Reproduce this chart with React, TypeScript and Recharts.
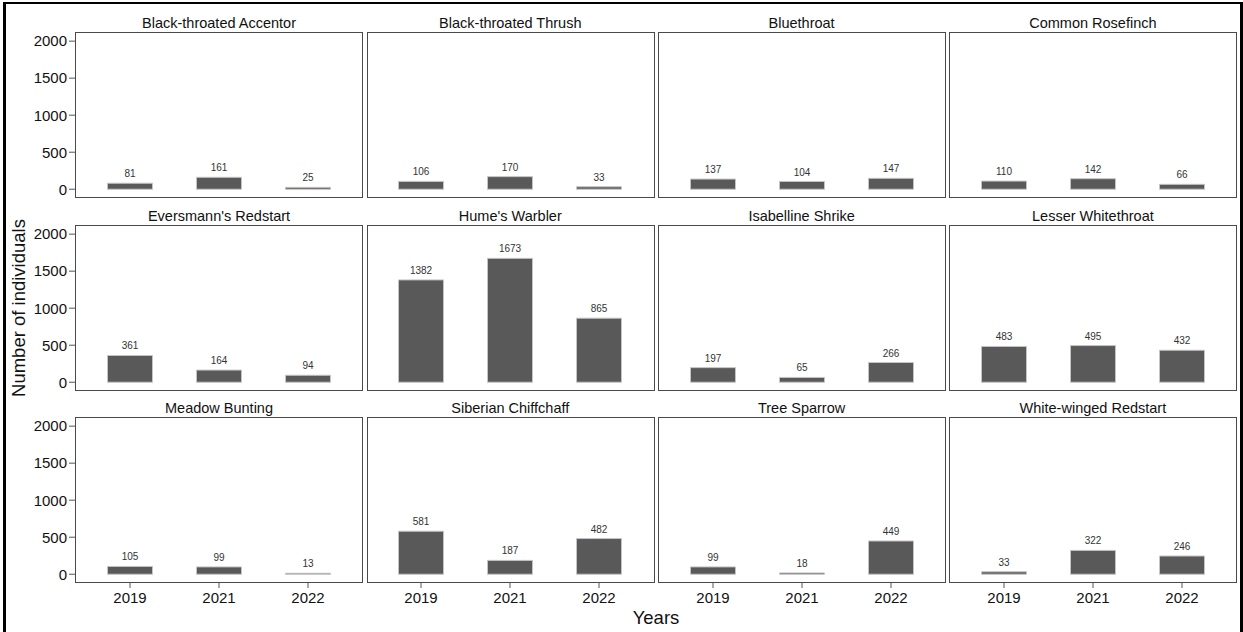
import React from 'react';
import { BarChart, Bar, XAxis, YAxis, LabelList } from 'recharts';

const species = [
  'Black-throated Accentor',
  'Black-throated Thrush',
  'Bluethroat',
  'Common Rosefinch',
  "Eversmann's Redstart",
  "Hume's Warbler",
  'Isabelline Shrike',
  'Lesser Whitethroat',
  'Meadow Bunting',
  'Siberian Chiffchaff',
  'Tree Sparrow',
  'White-winged Redstart',
];

const years = ['2019', '2021', '2022'];

const counts2019 = [81, 106, 137, 110, 361, 1382, 197, 483, 105, 581, 99, 33];
const counts2021 = [161, 170, 104, 142, 164, 1673, 65, 495, 99, 187, 18, 322];
const counts2022 = [25, 33, 147, 66, 94, 865, 266, 432, 13, 482, 449, 246];

const yTicks = [0, 500, 1000, 1500, 2000];

const FONT = '"Liberation Sans", Arial, Helvetica, sans-serif';
const BOX_W = 286;
const BOX_H = 164;
const COL_STEP = 291.3;
const ROW_STEP = 192.5;
const LEFT0 = 76;
const TOP0 = 33;
const Y_AXIS_W = 70;
const X_AXIS_H = 30;

const panelData = (i: number) =>
  years.map((year, k) => ({
    year,
    count: [counts2019, counts2021, counts2022][k][i],
  }));

const Panel: React.FC<{ index: number }> = ({ index }) => {
  const row = Math.floor(index / 4);
  const col = index % 4;
  const boxLeft = LEFT0 + col * COL_STEP;
  const boxTop = TOP0 + row * ROW_STEP;
  const showY = col === 0;
  const showX = row === 2;
  const width = BOX_W + (showY ? Y_AXIS_W : 0);
  const height = BOX_H + (showX ? X_AXIS_H : 0);

  return (
    <>
      <div
        style={{
          position: 'absolute',
          left: boxLeft,
          top: boxTop - 20,
          width: BOX_W,
          textAlign: 'center',
          fontSize: 14.5,
          lineHeight: '20px',
          color: '#111',
        }}
      >
        {species[index]}
      </div>
      <div
        style={{
          position: 'absolute',
          left: boxLeft - (showY ? Y_AXIS_W : 0),
          top: boxTop,
        }}
      >
        <BarChart
          width={width}
          height={height}
          data={panelData(index)}
          margin={{ top: 0, right: 0, bottom: 0, left: 0 }}
        >
          <XAxis
            dataKey="year"
            hide={!showX}
            height={X_AXIS_H}
            interval={0}
            padding={{ left: 9.5, right: 9.5 }}
            axisLine={false}
            tickSize={6}
            tickMargin={4}
            tickLine={{ stroke: '#555' }}
            tick={{ fill: '#111', fontSize: 15, fontFamily: FONT }}
          />
          <YAxis
            type="number"
            domain={[-105, 2110]}
            ticks={yTicks}
            interval={0}
            hide={!showY}
            width={Y_AXIS_W}
            axisLine={false}
            tickSize={7}
            tickMargin={2}
            tickLine={{ stroke: '#555' }}
            tick={{ fill: '#111', fontSize: 15, fontFamily: FONT }}
          />
          <Bar
            dataKey="count"
            fill="#595959"
            stroke="#c4c4c4"
            strokeWidth={1}
            barSize={45}
            isAnimationActive={false}
          >
            <LabelList
              dataKey="count"
              position="top"
              offset={6}
              fill="#333"
              fontSize={10}
              fontFamily={FONT}
            />
          </Bar>
        </BarChart>
      </div>
      <div
        style={{
          position: 'absolute',
          left: boxLeft - 0.75,
          top: boxTop - 0.75,
          width: BOX_W,
          height: BOX_H,
          border: '1.5px solid #4a4a4a',
          pointerEvents: 'none',
        }}
      />
    </>
  );
};

export default function App() {
  return (
    <div
      style={{
        position: 'absolute',
        left: 0,
        top: 0,
        width: 1243,
        height: 632,
        overflow: 'hidden',
        background: '#fff',
        fontFamily: FONT,
      }}
    >
      <div
        style={{
          position: 'absolute',
          left: 3,
          top: 2,
          width: 1234,
          height: 660,
          borderTop: '2px solid #000',
          borderLeft: '3px solid #000',
          borderRight: '3px solid #000',
        }}
      />
      {species.map((_, i) => (
        <Panel key={i} index={i} />
      ))}
      <div
        style={{
          position: 'absolute',
          left: 19 - 120,
          top: 308 - 12,
          width: 240,
          height: 24,
          lineHeight: '24px',
          textAlign: 'center',
          fontSize: 18.5,
          color: '#111',
          transform: 'rotate(-90deg)',
        }}
      >
        Number of individuals
      </div>
      <div
        style={{
          position: 'absolute',
          left: 656 - 100,
          top: 618 - 12,
          width: 200,
          height: 24,
          lineHeight: '24px',
          textAlign: 'center',
          fontSize: 18.5,
          color: '#111',
        }}
      >
        Years
      </div>
    </div>
  );
}
